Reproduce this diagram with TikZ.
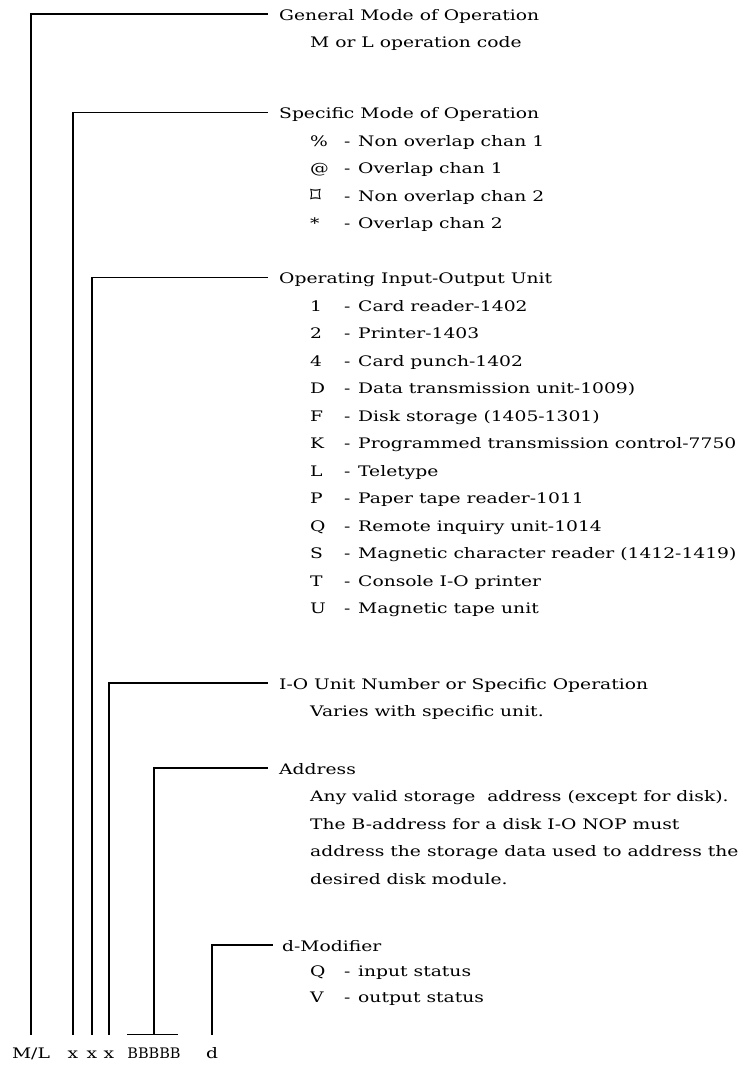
\documentclass[tikz,border=0pt]{standalone}
\usepackage{fontspec}
\setmainfont[FakeStretch=1.29]{DejaVu Serif}
\newfontfamily\plainserif{DejaVu Serif}
\newfontfamily\symfont{DejaVu Sans}
\newcommand{\itm}[2]{\makebox[34pt][l]{#1}\makebox[14pt][l]{-}#2}
\begin{document}
\begin{tikzpicture}[x=1pt,y=-1pt,
  font=\fontsize{14.5}{17}\selectfont,
  lbl/.style={anchor=base west, inner xsep=11pt, inner ysep=0pt, text height=12pt, text depth=0pt},
  sub/.style={anchor=base west, inner sep=0pt},
  code/.style={anchor=base, inner sep=0pt, text height=11pt, text depth=3pt},
  conn/.style={line width=1.1pt}]
\useasboundingbox (0,0) rectangle (744,1066);
% bottom code
\node[code] (ml) at (31,1058) {M/L};
\node[code] (xa) at (73,1058) {x};
\node[code] (xb) at (92,1058) {x};
\node[code] (xc) at (109,1058) {x};
\node[code, font=\plainserif\fontsize{14.5}{17}\selectfont] (bb) at (154,1058) {BBBBB};
\node[code] (dd) at (212,1058) {d};
% labels
\node[lbl] (gen) at (268,20) {General Mode of Operation};
\node[sub] (genA) at (310,47.5) {M or L operation code};
\node[lbl] (spec) at (268,118.5) {Specific Mode of Operation};
\node[sub] (spec1) at (310,146) {\itm{\%}{Non overlap chan 1}};
\node[sub] (spec2) at (310,173.5) {\itm{@}{Overlap chan 1}};
\node[sub] (spec3) at (310,201) {\itm{\raisebox{-1pt}{\symfont\fontsize{21}{21}\selectfont ⌑}}{Non overlap chan 2}};
\node[sub] (spec4) at (310,228.5) {\itm{*}{Overlap chan 2}};
\node[lbl] (oper) at (268,283.5) {Operating Input-Output Unit};
\node[sub] (op1) at (310,311) {\itm{1}{Card reader-1402}};
\node[sub] (op2) at (310,338.5) {\itm{2}{Printer-1403}};
\node[sub] (op3) at (310,366) {\itm{4}{Card punch-1402}};
\node[sub] (op4) at (310,393.5) {\itm{D}{Data transmission unit-1009)}};
\node[sub] (op5) at (310,421) {\itm{F}{Disk storage (1405-1301)}};
\node[sub] (op6) at (310,448.5) {\itm{K}{Programmed transmission control-7750}};
\node[sub] (op7) at (310,476) {\itm{L}{Teletype}};
\node[sub] (op8) at (310,503.5) {\itm{P}{Paper tape reader-1011}};
\node[sub] (op9) at (310,531) {\itm{Q}{Remote inquiry unit-1014}};
\node[sub] (op10) at (310,558.5) {\itm{S}{Magnetic character reader (1412-1419)}};
\node[sub] (op11) at (310,586) {\itm{T}{Console I-O printer}};
\node[sub] (op12) at (310,613.5) {\itm{U}{Magnetic tape unit}};
\node[lbl] (iou) at (268,689) {I-O Unit Number or Specific Operation};
\node[sub] (iouA) at (310,716.5) {Varies with specific unit.};
\node[lbl] (addr) at (268,774) {Address};
\node[sub] (addr1) at (310,801.5) {Any valid storage\ \ address (except for disk).};
\node[sub] (addr2) at (310,829) {The B-address for a disk I-O NOP must};
\node[sub] (addr3) at (310,856.5) {address the storage data used to address the};
\node[sub] (addr4) at (310,884) {desired disk module.};
\node[lbl, inner xsep=9pt] (dmod) at (273,951) {d-Modifier};
\node[sub] (dmod1) at (310,976.5) {\itm{Q}{input status}};
\node[sub] (dmod2) at (310,1002) {\itm{V}{output status}};
% connectors
\draw[conn] ([yshift=12pt]ml.north) |- (gen.west);
\draw[conn] ([yshift=12pt]xa.north) |- (spec.west);
\draw[conn] ([yshift=12pt]xb.north) |- (oper.west);
\draw[conn] ([yshift=12pt]xc.north) |- (iou.west);
\draw[conn] ([yshift=12pt]bb.north west) -- ([yshift=12pt,xshift=-3pt]bb.north east);
\draw[conn] ([yshift=12pt]bb.north) |- (addr.west);
\draw[conn] ([yshift=12pt]dd.north) |- (dmod.west);
\end{tikzpicture}
\end{document}
